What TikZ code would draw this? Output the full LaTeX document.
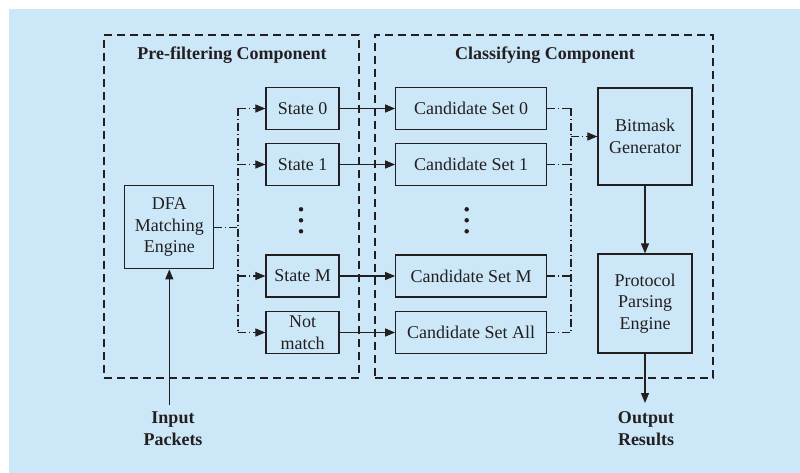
\documentclass[tikz,border=0pt]{standalone}
\usepackage{fontspec}
\setmainfont{Liberation Serif}
\usetikzlibrary{arrows.meta}
\definecolor{bg}{RGB}{204,232,248}
\definecolor{ink}{RGB}{35,31,32}
\begin{document}
\begin{tikzpicture}[x=1pt,y=-1pt,
  font=\fontsize{18}{21.6}\selectfont, text=ink,
  box/.style={draw=ink, line width=1.2pt, inner sep=0pt, align=center, minimum height=42pt},
  frm/.style={draw=ink, line width=1.1pt, dash pattern=on 8pt off 5pt, inner sep=0pt},
  arr/.style={draw=ink, line width=1.2pt, -{Triangle[length=10pt,width=8pt]}},
  dd/.style={draw=ink, line width=1.1pt, dash pattern=on 8pt off 3pt on 1pt off 3pt},
  ddarr/.style={dd, -{Triangle[length=10pt,width=8pt]}},
  ttl/.style={font=\fontsize{18}{21.6}\selectfont\bfseries, align=center},
  vdot/.style={circle, fill=ink, inner sep=0pt, minimum size=4.5pt}
]
\useasboundingbox (0,0) rectangle (800,473);
\fill[bg] (9,9) rectangle (800,473);

% frames
\node[frm, minimum width=255pt, minimum height=343pt] (lf) at (231.5,206.5) {};
\node[frm, minimum width=338pt, minimum height=343pt] (rf) at (544,206.5) {};
\node[ttl] (lt) at (232,55) {Pre-filtering Component};
\node[ttl] (rtt) at (545,55) {Classifying Component};

% DFA
\node[box, minimum width=89pt, minimum height=83pt] (dfa) at (169.3,227.3) {DFA\\Matching\\Engine};

% states
\node[box, minimum width=73pt] (s0) at (302.5,108.5) {State 0};
\node[box, minimum width=73pt] (s1) at (302.5,164.5) {State 1};
\node[box, minimum width=73pt] (sm) at (302.5,276) {State M};
\node[box, minimum width=73pt] (sn) at (302.5,332.5) {Not\\match};
\node[vdot] (sd1) at (301,209.3) {};
\node[vdot] (sd2) at (301,220.3) {};
\node[vdot] (sd3) at (301,231.3) {};

% candidates
\node[box, minimum width=151pt] (c0) at (471.2,108.5) {Candidate Set 0};
\node[box, minimum width=151pt] (c1) at (471.2,164.5) {Candidate Set 1};
\node[box, minimum width=151pt] (cm) at (471.2,276) {Candidate Set M};
\node[box, minimum width=151pt] (ca) at (471.2,332.5) {Candidate Set All};
\node[vdot] (cd1) at (466.7,209.3) {};
\node[vdot] (cd2) at (466.7,220.3) {};
\node[vdot] (cd3) at (466.7,231.3) {};

% right boxes
\node[box, minimum width=94pt, minimum height=97pt] (bm) at (645,136.5) {Bitmask\\Generator};
\node[box, minimum width=94pt, minimum height=99pt] (pp) at (645,303.5) {Protocol\\Parsing\\Engine};

% in/out labels
\node[ttl] (inp) at (173,428.5) {Input\\Packets};
\node[ttl] (outp) at (646,428.5) {Output\\Results};
\coordinate (inc) at (169.3,405);
\coordinate (outc) at (645,403);

% left dash-dot bus
\coordinate (lbt) at (238,108.5);
\coordinate (lbb) at (238,332.5);
\draw[dd] (dfa.east) -- (dfa.east -| lbt);
\draw[dd] (lbt) -- (lbb);
\draw[ddarr] (lbt) -- (s0.west);
\draw[ddarr] (s1.west -| lbt) -- (s1.west);
\draw[ddarr] (sm.west -| lbt) -- (sm.west);
\draw[ddarr] (lbb) -- (sn.west);

% state -> candidate
\draw[arr] (s0) -- (c0);
\draw[arr] (s1) -- (c1);
\draw[arr] (sm) -- (cm);
\draw[arr] (sn) -- (ca);

% right dash-dot bus
\coordinate (rbt) at (571,108.5);
\coordinate (rbb) at (571,332.5);
\draw[dd] (c0.east) -- (rbt);
\draw[dd] (c1.east) -- (c1.east -| rbt);
\draw[dd] (cm.east) -- (cm.east -| rbt);
\draw[dd] (ca.east) -- (rbb);
\draw[dd] (rbt) -- (rbb);
\draw[ddarr] (bm.west -| rbt) -- (bm.west);

% vertical arrows
\draw[arr] (bm) -- (pp);
\draw[arr] (pp.south) -- (outc);
\draw[arr] (inc) -- (dfa.south);
\end{tikzpicture}
\end{document}
